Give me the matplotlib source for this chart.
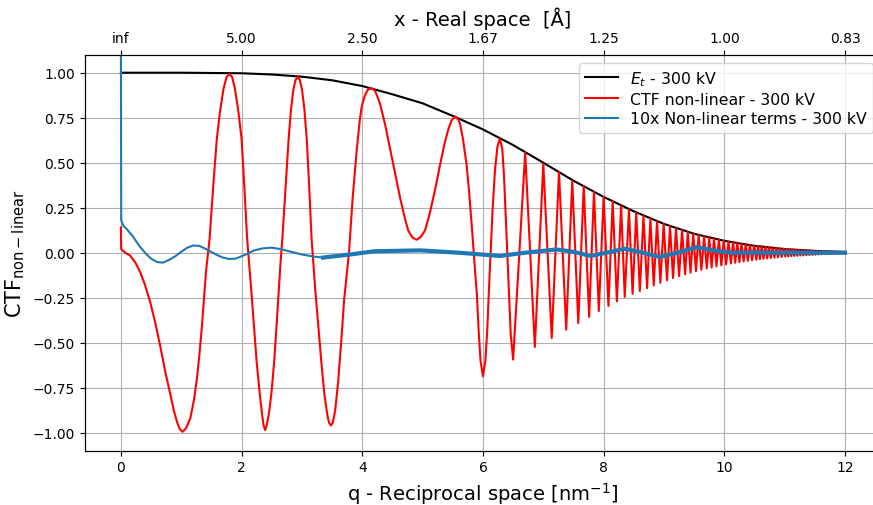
import matplotlib

matplotlib.use("Agg")
import matplotlib.pyplot as plt
import numpy as np

# envelope E_t
et_q = [0.0, 1.0, 2.0, 2.5, 3.0, 3.5, 4.0, 4.5, 5.0, 5.5, 6.0, 6.5, 7.0, 7.5, 8.0, 8.5,
        9.0, 9.5, 10.0, 10.5, 11.0, 11.5, 12.0]
et_v = [1.0, 1.0, 0.997, 0.99, 0.978, 0.958, 0.926, 0.88, 0.83, 0.76, 0.685, 0.598, 0.50,
        0.40, 0.31, 0.23, 0.16, 0.105, 0.066, 0.038, 0.02, 0.01, 0.004]

# red CTF, slow part (q < 6.5)
ctf_q = [0.0, 0.005, 0.08, 0.15, 0.24, 0.32, 0.40, 0.485, 0.57, 0.65, 0.735, 0.82, 0.88, 0.93,
         0.975, 1.02, 1.08, 1.15, 1.21, 1.26, 1.30, 1.34, 1.375, 1.41, 1.47, 1.53, 1.59, 1.645,
         1.70, 1.75, 1.80, 1.845, 1.89, 1.945, 2.00, 2.045, 2.09, 2.13, 2.17, 2.21, 2.25, 2.30,
         2.34, 2.365, 2.39, 2.415, 2.45, 2.495, 2.54, 2.575, 2.61, 2.645, 2.68, 2.73, 2.78,
         2.82, 2.86, 2.895, 2.93, 2.965, 3.00, 3.04, 3.08, 3.12, 3.16, 3.22, 3.27, 3.32, 3.37,
         3.42, 3.45, 3.48, 3.51, 3.55, 3.60, 3.65, 3.70, 3.78, 3.84, 3.91, 3.96, 3.99, 4.04,
         4.09, 4.15, 4.21, 4.26, 4.30, 4.38, 4.46, 4.55, 4.63, 4.70, 4.76, 4.83, 4.90, 4.97,
         5.04, 5.12, 5.21, 5.29, 5.37, 5.43, 5.48, 5.54, 5.59, 5.62, 5.67, 5.73, 5.77, 5.81,
         5.855, 5.90, 5.93, 5.96, 6.00, 6.04, 6.07, 6.10, 6.13, 6.16, 6.20, 6.24, 6.28, 6.32,
         6.35, 6.39, 6.42, 6.46]
ctf_v = [0.14, 0.02, -0.002, -0.015, -0.055, -0.107, -0.18, -0.274, -0.39, -0.515, -0.66, -0.79,
         -0.88, -0.94, -0.98, -0.995, -0.975, -0.92, -0.82, -0.70, -0.57, -0.42, -0.26, -0.107,
         0.078, 0.37, 0.633, 0.79, 0.91, 0.975, 0.994, 0.975, 0.91, 0.79, 0.633, 0.37, 0.09,
         -0.08, -0.25, -0.43, -0.607, -0.78, -0.90, -0.96, -0.985, -0.96, -0.90, -0.78, -0.607,
         -0.43, -0.24, -0.06, 0.10, 0.37, 0.633, 0.80, 0.91, 0.96, 0.976, 0.96, 0.91, 0.80,
         0.633, 0.37, 0.078, -0.2, -0.4, -0.6, -0.78, -0.9, -0.945, -0.96, -0.945, -0.88, -0.72,
         -0.5, -0.26, 0.0, 0.3, 0.578, 0.74, 0.81, 0.87, 0.905, 0.915, 0.90, 0.86, 0.82, 0.71,
         0.578, 0.43, 0.30, 0.20, 0.124, 0.085, 0.072, 0.088, 0.124, 0.22, 0.356, 0.49, 0.615,
         0.69, 0.735, 0.757, 0.74, 0.717, 0.63, 0.485, 0.34, 0.17, -0.03, -0.237, -0.44, -0.60,
         -0.687, -0.60, -0.44, -0.20, 0.02, 0.24, 0.46, 0.59, 0.633, 0.58, 0.42, 0.10, -0.15,
         -0.45]

# red CTF, fast part: local maxima and minima
peak_q = [6.70, 7.00, 7.26, 7.48, 7.67, 7.84, 8.00, 8.15, 8.29, 8.42, 8.54, 8.66, 8.775, 8.885,
          8.995, 9.10, 9.20, 9.30, 9.395, 9.485, 9.575, 9.665, 9.75, 9.83, 9.91, 9.99, 10.07,
          10.145, 10.215, 10.285, 10.355, 10.425, 10.495, 10.56, 10.62, 10.68, 10.74, 10.80,
          10.86, 10.92, 10.98, 11.035, 11.085, 11.135, 11.185, 11.235, 11.285, 11.335, 11.385,
          11.435, 11.485, 11.535, 11.585, 11.635, 11.685, 11.735, 11.785, 11.835, 11.885,
          11.935, 11.985]
peak_v = [0.556, 0.494, 0.45, 0.40, 0.37, 0.34, 0.31, 0.285, 0.26, 0.24, 0.223, 0.205, 0.19,
          0.175, 0.16, 0.147, 0.135, 0.124, 0.115, 0.107, 0.099, 0.091, 0.085, 0.079, 0.073,
          0.067, 0.062, 0.058, 0.054, 0.05, 0.047, 0.043, 0.04, 0.037, 0.035, 0.033, 0.031,
          0.029, 0.027, 0.025, 0.023, 0.021, 0.02, 0.019, 0.017, 0.016, 0.015, 0.014, 0.013,
          0.012, 0.011, 0.01, 0.009, 0.009, 0.008, 0.007, 0.006, 0.006, 0.005, 0.005, 0.004]
trough_q = [6.50, 6.86, 7.14, 7.38, 7.58, 7.76, 7.92, 8.08, 8.22, 8.35, 8.48, 8.60, 8.72, 8.83,
            8.94, 9.05, 9.15, 9.25, 9.35, 9.44, 9.53, 9.62, 9.71, 9.79, 9.87, 9.95, 10.03,
            10.11, 10.18, 10.25, 10.32, 10.39, 10.46, 10.53, 10.59, 10.65, 10.71, 10.77, 10.83,
            10.89, 10.95, 11.01, 11.06, 11.11, 11.16, 11.21, 11.26, 11.31, 11.36, 11.41, 11.46,
            11.51, 11.56, 11.61, 11.66, 11.71, 11.76, 11.81, 11.86, 11.91, 11.96]
trough_v = [-0.594, -0.524, -0.474, -0.428, -0.391, -0.357, -0.324, -0.296, -0.27, -0.246,
            -0.228, -0.213, -0.197, -0.182, -0.167, -0.153, -0.141, -0.13, -0.12, -0.111,
            -0.103, -0.095, -0.088, -0.082, -0.076, -0.07, -0.065, -0.06, -0.056, -0.052,
            -0.048, -0.045, -0.042, -0.039, -0.036, -0.034, -0.032, -0.03, -0.028, -0.026,
            -0.024, -0.022, -0.021, -0.019, -0.018, -0.017, -0.016, -0.015, -0.014, -0.013,
            -0.012, -0.011, -0.01, -0.009, -0.008, -0.008, -0.007, -0.006, -0.006, -0.005,
            -0.005]

# blue 10x non-linear terms
nl_q = [0.0, 0.005, 0.04, 0.1, 0.2, 0.3, 0.4, 0.5, 0.6, 0.7, 0.8, 0.9, 1.0, 1.1, 1.2, 1.3, 1.4,
        1.5, 1.6, 1.7, 1.8, 1.9, 2.0, 2.1, 2.2, 2.35, 2.5, 2.65, 2.8, 3.0, 3.2, 3.35, 3.8, 4.2,
        4.96, 5.6, 6.28, 6.7, 7.22, 7.5, 7.78, 8.05, 8.35, 8.65, 8.93, 9.27, 9.54, 9.82, 10.1,
        11.0, 12.0]
nl_v = [1.3, 0.18, 0.15, 0.13, 0.09, 0.04, 0.0, -0.033, -0.052, -0.055, -0.04, -0.02, 0.005,
        0.028, 0.04, 0.038, 0.022, 0.004, -0.014, -0.028, -0.035, -0.033, -0.02, -0.005, 0.012,
        0.024, 0.028, 0.02, 0.007, -0.01, -0.022, -0.027, -0.01, 0.008, 0.013, 0.0, -0.018, 0.0,
        0.018, 0.005, -0.018, 0.0, 0.022, 0.0, -0.024, 0.004, 0.031, 0.013, 0.0, 0.0, 0.0]

top_labels = ["inf", "5.00", "2.50", "1.67", "1.25", "1.00", "0.83"]
top_ticks = [0, 2, 4, 6, 8, 10, 12]

fast_q = np.array(peak_q + trough_q)
fast_v = np.array(peak_v + trough_v)
order = np.argsort(fast_q)
red_q = np.concatenate([ctf_q, fast_q[order]])
red_v = np.concatenate([ctf_v, fast_v[order]])
nl_q = np.array(nl_q)
nl_v = np.array(nl_v)

fig = plt.figure(figsize=(8.73, 5.06), dpi=100)
ax = fig.add_axes([0.097, 0.1073, 0.9124, 0.7826])

ax.plot(et_q, et_v, color="k", lw=1.5, label="$E_t$ - 300 kV")
ax.plot(red_q, red_v, color="r", lw=1.5, label="CTF non-linear - 300 kV")
ax.plot(nl_q, nl_v, color="#1f77b4", lw=1.5, label="10x Non-linear terms - 300 kV")
thick = nl_q >= 3.3
ax.plot(nl_q[thick], nl_v[thick], color="#1f77b4", lw=3.0)

ax.set_xlim(-0.6, 12.6)
ax.set_ylim(-1.1, 1.1)
ax.set_xticks([0, 2, 4, 6, 8, 10, 12])
ax.set_yticks(np.arange(-1.0, 1.01, 0.25))
ax.grid(True)
ax.set_xlabel("q - Reciprocal space [nm$^{-1}$]", fontsize=14)
ax.set_ylabel(r"$\mathrm{CTF_{non-linear}}$", fontsize=15)
ax.legend(loc="upper right", fontsize=11.3, labelspacing=0.28, handlelength=2.1)

top = ax.twiny()
top.set_xlim(ax.get_xlim())
top.set_xticks(top_ticks)
top.set_xticklabels(top_labels)
top.set_xlabel("x - Real space  [Å]", fontsize=14)

fig.savefig("out.png", dpi=100)
